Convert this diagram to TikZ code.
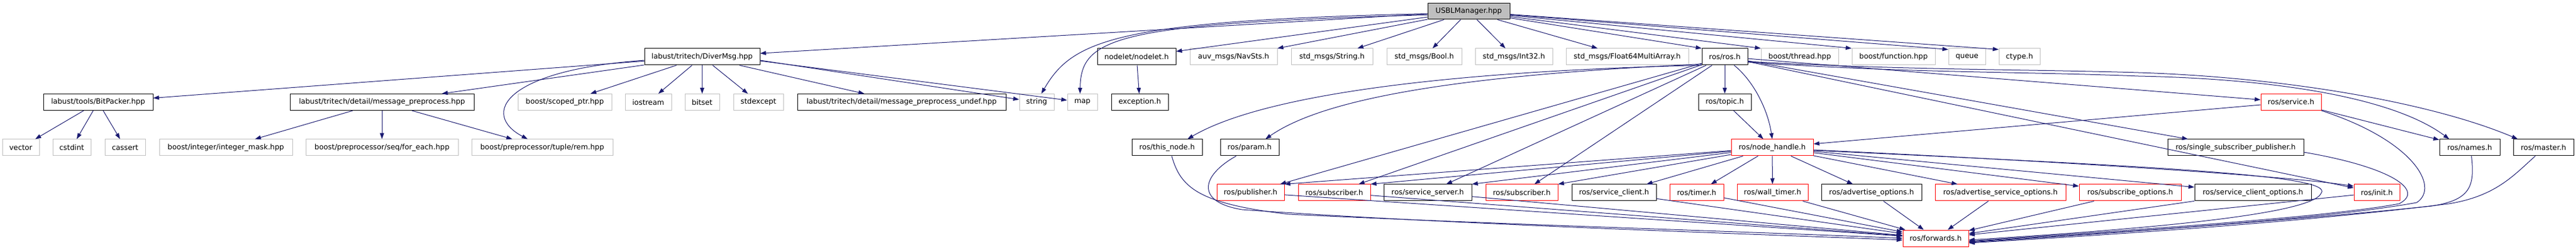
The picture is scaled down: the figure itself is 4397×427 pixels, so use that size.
\documentclass[tikz,border=0pt]{standalone}
\usepackage{fontspec}
\newfontfamily\dv{DejaVu Sans}
\usetikzlibrary{arrows.meta,calc}
\definecolor{edgec}{HTML}{191970}
\definecolor{gborder}{HTML}{BFBFBF}
\definecolor{rborder}{HTML}{FF0000}
\tikzset{
 nbox/.style={draw, rectangle, inner sep=0pt, minimum height=28pt, line width=1pt, font=\dv\fontsize{12.4}{14}\selectfont, text=black},
 gbox/.style={nbox, draw=gborder},
 rbox/.style={nbox, draw=rborder},
 bbox/.style={nbox, draw=black},
 edge/.style={draw=edgec, line width=1pt, -{Triangle[length=10pt,width=7pt]}},
}
\begin{document}
\begin{tikzpicture}[x=1pt,y=-1pt]
\useasboundingbox (0,0) rectangle (4397,427);
% row 1
\node[gbox, fill=gborder, draw=black, minimum width=140pt, minimum height=27pt] (usbl) at (2507,19.5) {USBLManager.hpp};
% row 2
\node[bbox, minimum width=197pt] (diver) at (1198.5,97) {labust/tritech/DiverMsg.hpp};
\node[bbox, minimum width=134pt] (nodelet) at (1940,97) {nodelet/nodelet.h};
\node[gbox, minimum width=149pt] (navsts) at (2105.5,97) {auv\_msgs/NavSts.h};
\node[gbox, minimum width=139pt] (stdstring) at (2273.5,97) {std\_msgs/String.h};
\node[gbox, minimum width=128pt] (bool) at (2431,97) {std\_msgs/Bool.h};
\node[gbox, minimum width=132pt] (int32) at (2584,97) {std\_msgs/Int32.h};
\node[gbox, minimum width=209pt] (float64) at (2777.5,97) {std\_msgs/Float64MultiArray.h};
\node[bbox, minimum width=78pt] (rosros) at (2944,97) {ros/ros.h};
\node[gbox, minimum width=132pt] (thread) at (3072,97) {boost/thread.hpp};
\node[gbox, minimum width=142pt] (function) at (3232,97) {boost/function.hpp};
\node[gbox, minimum width=63pt] (queue) at (3357.5,97) {queue};
\node[gbox, minimum width=70pt] (ctype) at (3447,97) {ctype.h};
% row 3
\node[bbox, minimum width=187pt] (bitpacker) at (167.5,174.5) {labust/tools/BitPacker.hpp};
\node[bbox, minimum width=314pt] (mpre) at (652,174.5) {labust/tritech/detail/message\_preprocess.hpp};
\node[gbox, minimum width=160pt] (scoped) at (964,174.5) {boost/scoped\_ptr.hpp};
\node[gbox, minimum width=79pt] (iostream) at (1106.5,174.5) {iostream};
\node[gbox, minimum width=59pt] (bitset) at (1198.5,174.5) {bitset};
\node[gbox, minimum width=85pt] (stdexcept) at (1294.5,174.5) {stdexcept};
\node[bbox, minimum width=356pt] (mpreundef) at (1539,174.5) {labust/tritech/detail/message\_preprocess\_undef.hpp};
\node[gbox, minimum width=59pt] (string) at (1769.5,174.5) {string};
\node[gbox, minimum width=51pt] (map) at (1847.5,174.5) {map};
\node[bbox, minimum width=97pt] (exception) at (1945.5,174.5) {exception.h};
\node[bbox, minimum width=90pt] (topic) at (2944,174.5) {ros/topic.h};
\node[rbox, minimum width=103pt] (service) at (3910.5,174.5) {ros/service.h};
% row 4
\node[gbox, minimum width=63pt] (vector) at (35.5,252) {vector};
\node[gbox, minimum width=65pt] (cstdint) at (122.5,252) {cstdint};
\node[gbox, minimum width=69pt] (cassert) at (213.5,252) {cassert};
\node[gbox, minimum width=227pt] (intmask) at (385.5,252) {boost/integer/integer\_mask.hpp};
\node[gbox, minimum width=260pt] (foreach) at (652,252) {boost/preprocessor/seq/for\_each.hpp};
\node[gbox, minimum width=241pt] (rem) at (925.5,252) {boost/preprocessor/tuple/rem.hpp};
\node[bbox, minimum width=120pt] (thisnode) at (1992,252) {ros/this\_node.h};
\node[bbox, minimum width=100pt] (param) at (2133,252) {ros/param.h};
\node[rbox, minimum width=140pt] (nodehandle) at (3025,252) {ros/node\_handle.h};
\node[bbox, minimum width=232pt] (ssp) at (3816,252) {ros/single\_subscriber\_publisher.h};
\node[bbox, minimum width=103pt] (names) at (4215.5,252) {ros/names.h};
\node[bbox, minimum width=103pt] (master) at (4341.5,252) {ros/master.h};
% row 5
\node[rbox, minimum width=115pt] (publisher) at (2134.5,329) {ros/publisher.h};
\node[rbox, minimum width=123pt] (subA) at (2277.5,329) {ros/subscriber.h};
\node[bbox, minimum width=150pt] (srvserver) at (2437,329) {ros/service\_server.h};
\node[rbox, minimum width=123pt] (subB) at (2597.5,329) {ros/subscriber.h};
\node[bbox, minimum width=144pt] (srvclient) at (2755,329) {ros/service\_client.h};
\node[rbox, minimum width=92pt] (timer) at (2896,329) {ros/timer.h};
\node[rbox, minimum width=121pt] (walltimer) at (3025.5,329) {ros/wall\_timer.h};
\node[bbox, minimum width=171pt] (advopt) at (3194.5,329) {ros/advertise\_options.h};
\node[rbox, minimum width=223pt] (advsrvopt) at (3414.5,329) {ros/advertise\_service\_options.h};
\node[rbox, minimum width=174pt] (subopt) at (3636,329) {ros/subscribe\_options.h};
\node[bbox, minimum width=199pt] (srvclopt) at (3845.5,329) {ros/service\_client\_options.h};
\node[rbox, minimum width=78pt] (init) at (4057,329) {ros/init.h};
% row 6
\node[rbox, minimum width=112pt] (forwards) at (3304,407) {ros/forwards.h};

% USBLManager edges
\draw[edge] (usbl) -- (diver);
\draw[edge] (usbl) -- (nodelet);
\draw[edge] (usbl) -- (navsts);
\draw[edge] (usbl) -- (stdstring);
\draw[edge] (usbl) -- (bool);
\draw[edge] (usbl) -- (int32);
\draw[edge] (usbl) -- (float64);
\draw[edge] (usbl) -- (rosros.north west);
\draw[edge] (usbl) -- (thread.north west);
\draw[edge] (usbl) -- (function.north west);
\draw[edge] (usbl) -- ($(queue.north west)+(0,2)$);
\draw[edge] (usbl) -- ($(ctype.north west)+(0,2)$);
\draw[edge] ($(usbl.west)+(0,4)$) .. controls (1900,35) and (1830,70) .. ($(string.north)+(8,0)$);
\draw[edge] ($(usbl.west)+(0,6)$) .. controls (1900,40) and (1845,65) .. ($(map.north)+(-4,0)$);
% DiverMsg edges
\draw[edge] (diver) -- (bitpacker);
\draw[edge] (diver) -- (mpre);
\draw[edge] (diver) -- (scoped);
\draw[edge] (diver) -- (iostream);
\draw[edge] (diver) -- (bitset);
\draw[edge] (diver) -- (stdexcept);
\draw[edge] (diver) -- (mpreundef);
\draw[edge] ($(diver.east)+(0,6)$) -- (string);
\draw[edge] ($(diver.east)+(0,7)$) -- (map);
\draw[edge] ($(diver.west)+(0,6)$) .. controls (860,120) and (820,195) .. ($(rem.north)+(-25,0)$);
% BitPacker / preprocess / nodelet
\draw[edge] (bitpacker) -- (vector);
\draw[edge] (bitpacker) -- (cstdint);
\draw[edge] (bitpacker) -- (cassert);
\draw[edge] (mpre) -- (intmask);
\draw[edge] (mpre) -- (foreach);
\draw[edge] (mpre) -- (rem);
\draw[edge] (nodelet) -- (exception);
% ros/ros.h edges
\draw[edge] (rosros) -- (topic);
\draw[edge] ($(rosros.south)+(16,0)$) .. controls (2995,140) and (3018,190) .. (nodehandle.north);
\draw[edge] (rosros.south west) .. controls (2450,122) and (2150,165) .. ($(thisnode.north)+(35,0)$);
\draw[edge] ($(rosros.south west)+(0,-2)$) .. controls (2450,130) and (2250,175) .. ($(param.north)+(27,0)$);
\draw[edge] (rosros) -- (publisher);
\draw[edge] (rosros) -- (subA);
\draw[edge] (rosros) -- (srvserver);
\draw[edge] (rosros) -- (subB);
\draw[edge] (rosros) -- (service);
\draw[edge] (rosros) -- (ssp);
\draw[edge] (rosros) -- ($(init.west)+(0,-8)$);
\draw[edge] ($(rosros.east)+(0,9)$) .. controls (3250,125) and (3450,122) .. (3650,130) .. controls (3900,135) and (4090,170) .. ($(names.north)+(-35,0)$);
\draw[edge] ($(rosros.east)+(0,8)$) .. controls (3250,120) and (3450,118) .. (3650,124) .. controls (3900,132) and (4150,175) .. ($(master.north)+(-44,0)$);
\draw[edge] (topic) -- (nodehandle);
% node_handle edges
\draw[edge] (nodehandle) -- (publisher.north east);
\draw[edge] (nodehandle) -- (subA.north east);
\draw[edge] (nodehandle) -- (srvserver.north east);
\draw[edge] (nodehandle) -- (subB.north east);
\draw[edge] (nodehandle) -- ($(srvclient.north east)+(-17,0)$);
\draw[edge] (nodehandle) -- (timer);
\draw[edge] (nodehandle) -- (walltimer);
\draw[edge] (nodehandle) -- (advopt);
\draw[edge] (nodehandle) -- (advsrvopt);
\draw[edge] (nodehandle) -- (subopt);
\draw[edge] (nodehandle) -- (srvclopt);
\draw[edge] ($(nodehandle.east)+(0,4)$) .. controls (3500,275) and (3900,300) .. ($(init.west)+(0,-11)$);
\draw[edge] ($(nodehandle.east)+(0,5)$) .. controls (3700,285) and (3985,300) .. (3962,330) .. controls (3945,370) and (3600,395) .. ($(forwards.east)+(0,3)$);
% service edges
\draw[edge] (service) -- (nodehandle);
\draw[edge] (service) -- (names);
\draw[edge] (service.south east) .. controls (4120,240) and (4165,320) .. (4125,346) .. controls (3950,378) and (3550,400) .. ($(forwards.east)+(0,6)$);
% edges into forwards
\draw[edge] (publisher) -- (forwards);
\draw[edge] (subA) -- (forwards);
\draw[edge] (srvserver) -- (forwards);
\draw[edge] (srvclient) -- (forwards);
\draw[edge] (timer) -- (forwards);
\draw[edge] (walltimer) -- (forwards);
\draw[edge] (advopt) -- (forwards);
\draw[edge] (advsrvopt) -- (forwards);
\draw[edge] (subopt) -- (forwards);
\draw[edge] (srvclopt) -- (forwards);
\draw[edge] (init) -- (forwards);
\draw[edge] ($(thisnode.south)+(8,0)$) .. controls (2015,320) and (2045,348) .. (2200,366) .. controls (2600,385) and (3000,396) .. (forwards.west);
\draw[edge] ($(param.south)+(-23,0)$) .. controls (2050,300) and (2040,345) .. (2120,358) .. controls (2450,382) and (3000,400) .. ($(forwards.west)+(0,3)$);
\draw[edge] ($(ssp.east)+(0,8)$) .. controls (4080,285) and (4140,325) .. (4095,348) .. controls (3950,375) and (3550,398) .. ($(forwards.east)+(0,5)$);
\draw[edge] ($(names.south)+(3,0)$) .. controls (4225,320) and (4215,342) .. (4150,352) .. controls (3900,378) and (3550,402) .. ($(forwards.east)+(0,7)$);
\draw[edge] ($(master.south)+(-14,0)$) .. controls (4290,300) and (4260,335) .. (4180,348) .. controls (3900,383) and (3550,404) .. ($(forwards.east)+(0,8)$);
\end{tikzpicture}
\end{document}
